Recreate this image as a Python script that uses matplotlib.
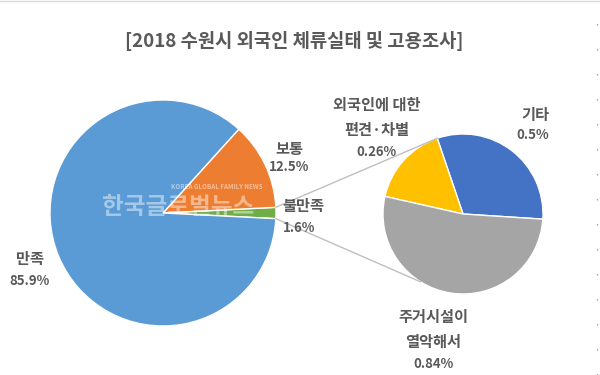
import numpy as np
import matplotlib
matplotlib.use("Agg")
import matplotlib.pyplot as plt
from matplotlib.patches import ConnectionPatch
from matplotlib.lines import Line2D

plt.rcParams['font.family'] = ['Noto Sans CJK KR', 'DejaVu Sans']

# main pie: satisfaction
main_labels = ['불만족', '보통', '만족']
main_values = [1.6, 12.5, 85.9]
main_colors = ['#70AD47', '#ED7D31', '#5B9BD5']

# secondary pie: reasons for dissatisfaction
sub_labels = ['기타', '외국인에 대한\n편견·차별', '주거시설이\n열악해서']
sub_values = [0.5, 0.26, 0.84]
sub_colors = ['#4472C4', '#FFC000', '#A5A5A5']

txt = '#595959'

fig = plt.figure(figsize=(6, 3.75), dpi=100)
fig.patch.set_facecolor('white')

ax1 = fig.add_axes([0.0833, 0.1307, 0.3767, 0.6027])
ax2 = fig.add_axes([0.6383, 0.216, 0.2667, 0.4267])

# green slice centred on the right-hand horizontal
start1 = -main_values[0] / sum(main_values) * 360 / 2
w1, _ = ax1.pie(main_values, colors=main_colors, startangle=start1,
                radius=1, wedgeprops=dict(edgecolor='white', linewidth=1))
ax1.set_xlim(-1, 1)
ax1.set_ylim(-1, 1)
ax1.set_aspect('equal')
ax1.axis('off')

start2 = -3.7
w2, _ = ax2.pie(sub_values, colors=sub_colors, startangle=start2,
                radius=1, wedgeprops=dict(edgecolor='white', linewidth=1))
ax2.set_xlim(-1, 1)
ax2.set_ylim(-1, 1)
ax2.set_aspect('equal')
ax2.axis('off')

# connector lines from the green slice to the second pie
g = w1[0]
a_top = np.deg2rad(g.theta2)
a_bot = np.deg2rad(g.theta1)
b_top = np.deg2rad(108.5)
b_bot = np.deg2rad(238)
for a, b in [(a_top, b_top), (a_bot, b_bot)]:
    con = ConnectionPatch(xyA=(np.cos(a), np.sin(a)), coordsA=ax1.transData,
                          xyB=(np.cos(b), np.sin(b)), coordsB=ax2.transData,
                          color='#BFBFBF', linewidth=1)
    fig.add_artist(con)

def px(x, y):
    return x / 600, 1 - y / 375

def label(x, y, s, size=11):
    fig.text(*px(x, y), s, ha='center', va='center', color=txt,
             fontsize=size, fontweight='bold')

fig.text(*px(294, 41), '[2018 수원시 외국인 체류실태 및 고용조사]', ha='center',
         va='center', color=txt, fontsize=13.5, fontweight='bold')

# watermark
fig.text(*px(178, 207), '한국글로벌뉴스', ha='center', va='center',
         color='white', alpha=0.45, fontsize=17, fontweight='bold')
fig.text(*px(217, 187), 'KOREA GLOBAL FAMILY NEWS', ha='center', va='center',
         color='white', alpha=0.5, fontsize=4.5, fontweight='bold')

label(30, 259, '만족')
label(29, 281, '85.9%', 9.5)
label(289, 149, '보통')
label(289, 167, '12.5%', 9.5)
label(303, 206, '불만족')
label(299, 228, '1.6%', 9.5)
label(377, 105, '외국인에 대한')
label(377, 130, '편견·차별')
label(376, 152, '0.26%', 9.5)
label(535, 115, '기타')
label(533, 135, '0.5%', 9.5)
label(433, 317, '주거시설이')
label(433, 342, '열악해서')
label(433, 364, '0.84%', 9.5)

# faint frame edges of the original image
fig.add_artist(Line2D([0, 1], [0.998, 0.998], transform=fig.transFigure,
                      color='#D9D9D9', linewidth=1))
fig.add_artist(Line2D([597 / 600, 597 / 600], [0, 1], transform=fig.transFigure,
                      color='#A0A0A0', linewidth=1, linestyle=(0, (1, 17))))

fig.savefig('out.png', dpi=100, facecolor='white')
